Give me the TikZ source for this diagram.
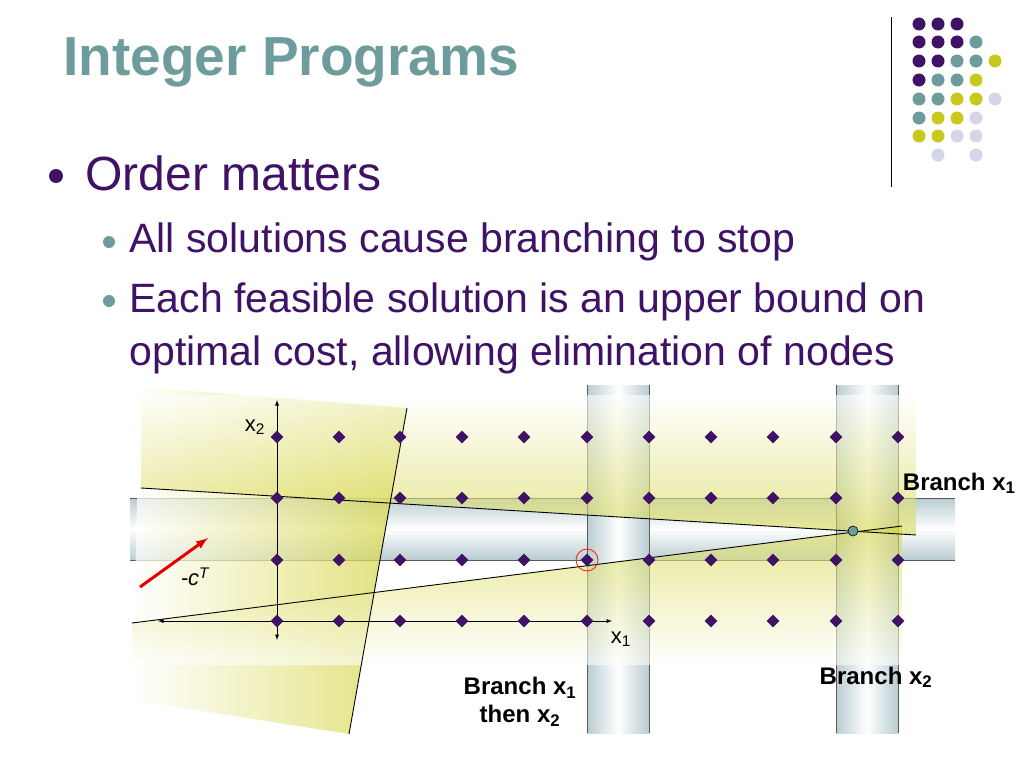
\documentclass[tikz,border=0pt]{standalone}
\usepackage{fontspec}
\setmainfont{Liberation Sans}
\usetikzlibrary{shapes.geometric}
\definecolor{pur}{HTML}{3F1266}
\definecolor{teal2}{HTML}{6E9C9C}
\definecolor{yel}{HTML}{C8C81E}
\definecolor{lav}{HTML}{D5D5E8}
\definecolor{bandc}{HTML}{B9CCD1}
\definecolor{yelf}{HTML}{D6D64A}
\begin{document}
\begin{tikzpicture}[x=1pt,y=-1pt,
  dia/.style={diamond,fill=pur,inner sep=0pt,minimum size=13pt},
  ldot/.style={circle,inner sep=0pt,minimum size=13pt},
  bandedge/.style={draw=gray!70!black,line width=0.8pt},
  lbl/.style={font=\fontsize{24}{28}\selectfont\bfseries,align=center}]
\useasboundingbox (0,0) rectangle (1024,768);
% logo
\draw[line width=1pt] (891,17) -- (891,187);
\foreach \r/\y/\cols in {1/24/{pur,pur,pur},2/42/{pur,pur,pur,teal2},3/61/{pur,pur,teal2,teal2,yel},4/80/{pur,teal2,teal2,yel},5/99/{teal2,teal2,yel,yel,lav},6/118/{teal2,yel,yel,lav},7/136/{yel,yel,lav,lav},8/155/{white,lav,white,lav}}{
  \foreach \c [count=\i] in \cols {
    \pgfmathsetmacro{\xx}{919+(\i-1)*19}
    \node[ldot,fill=\c] (d\r\i) at (\xx,\y) {};
  }
}
% title and bullets
\node[anchor=base west,text=teal2,font=\fontsize{55}{60}\selectfont\bfseries] (title) at (60,75) {Integer Programs};
\node[circle,fill=pur,inner sep=0pt,minimum size=14pt] (b1) at (56,176) {};
\node[anchor=base west,text=pur,font=\fontsize{48}{52}\selectfont] (t1) at (82,190) {Order matters};
\node[circle,fill=teal2,inner sep=0pt,minimum size=12pt] (b2) at (109,242) {};
\node[anchor=base west,text=pur,font=\fontsize{41}{46}\selectfont] (t2) at (126,252) {All solutions cause branching to stop};
\node[circle,fill=teal2,inner sep=0pt,minimum size=12pt] (b3) at (109,301) {};
\node[anchor=base west,text=pur,font=\fontsize{41}{46}\selectfont] (t3) at (126,312) {Each feasible solution is an upper bound on};
\node[anchor=base west,text=pur,font=\fontsize{41}{46}\selectfont] (t4) at (126,365) {optimal cost, allowing elimination of nodes};
% blue bands
\shade[top color=bandc,bottom color=bandc,middle color=white] (130,498) rectangle (955,560);
\draw[bandedge] (130,498) -- (955,498) (130,560) -- (955,560);
\foreach \a/\b in {587/649,836/898}{
  \shade[left color=bandc,right color=bandc,middle color=white] (\a,385) rectangle (\b,733);
  \draw[bandedge] (\a,385) -- (\a,733) (\b,385) -- (\b,733);
}
% yellow regions
\shade[fill opacity=0.75,left color=white,right color=yelf] (140,387) -- (407,408) -- (349,734) -- (132,700) -- cycle;
\shade[fill opacity=0.6,top color=white,bottom color=yelf] (141,395) -- (916,395) -- (916,535) -- (141,488) -- cycle;
\shade[fill opacity=0.6,top color=yelf,bottom color=white] (132,623) -- (902,526) -- (902,665) -- (132,665) -- cycle;
% constraint lines
\coordinate (l1a) at (141,488); \coordinate (l1b) at (916,535);
\coordinate (l2a) at (132,623); \coordinate (l2b) at (902,526);
\coordinate (l3a) at (407,408); \coordinate (l3b) at (349,734);
\draw[line width=0.9pt] (l1a) -- (l1b);
\draw[line width=0.9pt] (l2a) -- (l2b);
\draw[line width=0.9pt] (l3a) -- (l3b);
% axes
\coordinate (xl) at (158,621); \coordinate (xr) at (612,621);
\coordinate (yb) at (277,640); \coordinate (yt) at (277,400);
\draw[line width=0.9pt,<->,>=latex] (xl) -- (xr);
\draw[line width=0.9pt,<->,>=latex] (yb) -- (yt);
\node[font=\fontsize{22}{24}\selectfont] (x2) at (255,427) {x\textsubscript{2}};
\node[font=\fontsize{22}{24}\selectfont] (x1) at (621,639) {x\textsubscript{1}};
% diamonds
\foreach \y [count=\j] in {437,498,560,621}{
  \foreach \x [count=\i] in {277,339,400,462,524,587,649,711,773,836,898}{
    \node[dia] (p\i\j) at (\x,\y) {};
  }
}
% red items
\coordinate (ca) at (140,587); \coordinate (cb) at (208,538);
\draw[red!90!black,line width=3pt,-{latex}] (ca) -- (cb);
\node[font=\fontsize{22}{24}\selectfont\itshape] (ct) at (195,577) {-c\textsuperscript{T}};
\node[circle,draw=red!80!orange,line width=0.8pt,minimum size=22pt,inner sep=0pt] (opt) at (p63) {};
\node[circle,draw=black,fill=teal2,line width=0.6pt,minimum size=10pt,inner sep=0pt] (ip) at (853,531) {};
% labels
\node[lbl,anchor=base east] (br1) at (1019,490) {Branch x\textsubscript{1}};
\node[lbl,anchor=base] (br2) at (876,684) {Branch x\textsubscript{2}};
\node[lbl] (br3) at (520,702) {Branch x\textsubscript{1}\\then x\textsubscript{2}};
\end{tikzpicture}
\end{document}
